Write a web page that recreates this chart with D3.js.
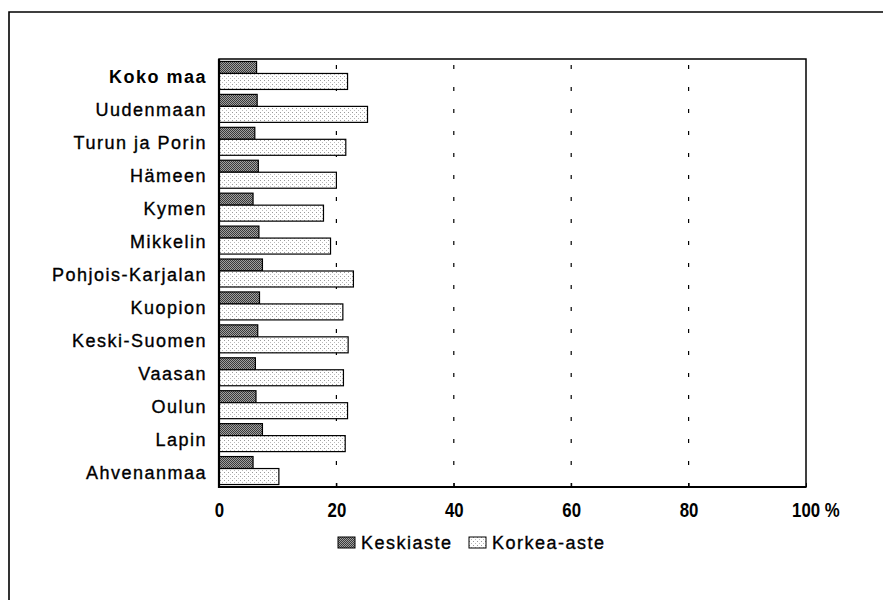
<!DOCTYPE html>
<html>
<head>
<meta charset="utf-8">
<script src="https://cdn.jsdelivr.net/npm/d3@7"></script>
<style>
  body { margin: 0; background: #fff; }
  svg { display: block; }
</style>
</head>
<body>
<script>
var regions = ['Koko maa', 'Uudenmaan', 'Turun ja Porin', 'Hämeen', 'Kymen', 'Mikkelin', 'Pohjois-Karjalan',
               'Kuopion', 'Keski-Suomen', 'Vaasan', 'Oulun', 'Lapin', 'Ahvenanmaa'];
var keskiaste = [6.4, 6.5, 6.1, 6.7, 5.8, 6.8, 7.4, 6.9, 6.6, 6.2, 6.3, 7.4, 5.8];
var korkeaAste = [21.9, 25.3, 21.6, 20.0, 17.8, 19.0, 22.9, 21.1, 22.0, 21.2, 21.9, 21.5, 10.2];
var seriesNames = ['Keskiaste', 'Korkea-aste'];
var tickValues = [0, 20, 40, 60, 80, 100];
var gridValues = [20, 40, 60, 80];

var width = 883, height = 600;
var plot = { left: 219, right: 806, top: 59, bottom: 487 };

var labelFont = '"Liberation Sans", Arial, sans-serif';

var svg = d3.select('body').append('svg').attr('width', width).attr('height', height);

// hatch-like fills for the scanned look
var defs = svg.append('defs');
var dark = defs.append('pattern').attr('id', 'darkFill')
    .attr('width', 2).attr('height', 2).attr('patternUnits', 'userSpaceOnUse');
dark.append('rect').attr('width', 2).attr('height', 2).attr('fill', '#a0a0a0');
dark.append('rect').attr('width', 1).attr('height', 1).attr('fill', '#3a3a3a');
dark.append('rect').attr('x', 1).attr('y', 1).attr('width', 1).attr('height', 1).attr('fill', '#3a3a3a');

var light = defs.append('pattern').attr('id', 'lightFill')
    .attr('width', 4).attr('height', 4).attr('patternUnits', 'userSpaceOnUse');
light.append('rect').attr('width', 4).attr('height', 4).attr('fill', '#fff');
light.append('rect').attr('x', 0).attr('y', 0).attr('width', 1).attr('height', 1).attr('fill', '#9a9a9a');
light.append('rect').attr('x', 2).attr('y', 2).attr('width', 1).attr('height', 1).attr('fill', '#bbb');

var fills = ['url(#darkFill)', 'url(#lightFill)'];

// outer frame (runs off the page right and bottom)
svg.append('path')
    .attr('d', 'M9,' + height + 'V12H' + width)
    .attr('fill', 'none').attr('stroke', '#000').attr('stroke-width', 1.6);

var x = d3.scaleLinear().domain([0, 100]).range([plot.left, plot.right]);
var y = d3.scaleBand().domain(regions).range([plot.top, plot.bottom])
    .paddingInner(0.15).paddingOuter(0.075);

// dashed grid
svg.append('g').selectAll('line').data(gridValues).join('line')
    .attr('x1', function(d) { return x(d); })
    .attr('x2', function(d) { return x(d); })
    .attr('y1', plot.top + 6).attr('y2', plot.bottom)
    .attr('stroke', '#000').attr('stroke-width', 1.2)
    .attr('stroke-dasharray', '4 18');

// bars: dark one on top, light one underneath
var darkH = y.bandwidth() * 12 / 28;
var lightH = y.bandwidth() - darkH;
var bars = svg.append('g');
bars.selectAll('rect.k').data(regions).join('rect')
    .attr('class', 'k')
    .attr('x', x(0))
    .attr('y', function(d) { return y(d); })
    .attr('width', function(d, i) { return x(keskiaste[i]) - x(0); })
    .attr('height', darkH)
    .attr('fill', fills[0]).attr('stroke', '#000').attr('stroke-width', 1.2);
bars.selectAll('rect.a').data(regions).join('rect')
    .attr('class', 'a')
    .attr('x', x(0))
    .attr('y', function(d) { return y(d) + darkH; })
    .attr('width', function(d, i) { return x(korkeaAste[i]) - x(0); })
    .attr('height', lightH)
    .attr('fill', fills[1]).attr('stroke', '#000').attr('stroke-width', 1.2);

// plot frame
svg.append('rect')
    .attr('x', plot.left).attr('y', plot.top)
    .attr('width', plot.right - plot.left).attr('height', plot.bottom - plot.top)
    .attr('fill', 'none').attr('stroke', '#000').attr('stroke-width', 1.5);
svg.append('line').attr('x1', plot.left).attr('x2', plot.left)
    .attr('y1', plot.top).attr('y2', plot.bottom + 1)
    .attr('stroke', '#000').attr('stroke-width', 2.2);
svg.append('line').attr('x1', plot.left).attr('x2', plot.right)
    .attr('y1', plot.bottom).attr('y2', plot.bottom)
    .attr('stroke', '#000').attr('stroke-width', 2.2);

// category labels
svg.append('g').selectAll('text').data(regions).join('text')
    .attr('x', plot.left - 12)
    .attr('y', function(d) { return y(d) + y.bandwidth() / 2 + 8; })
    .attr('text-anchor', 'end')
    .attr('font-family', labelFont)
    .attr('font-size', 18)
    .attr('letter-spacing', 1.5)
    .attr('font-weight', function(d, i) { return i === 0 ? 'bold' : 'normal'; })
    .attr('stroke', function(d, i) { return i === 0 ? 'none' : '#000'; })
    .attr('stroke-width', 0.35)
    .attr('fill', '#000')
    .text(function(d) { return d; });

// x axis, condensed bold numbers
var xAxis = d3.axisBottom(x)
    .tickValues(tickValues)
    .tickSizeInner(-4)
    .tickSizeOuter(0)
    .tickFormat(function(d) { return d === 100 ? '100 %' : d; });
var axisG = svg.append('g')
    .attr('transform', 'translate(0,' + plot.bottom + ')')
    .call(xAxis);
axisG.select('.domain').remove();
axisG.selectAll('.tick line').attr('stroke', '#000').attr('stroke-width', 1);
axisG.selectAll('.tick text')
    .attr('y', 30).attr('dy', 0)
    .attr('fill', '#000')
    .attr('font-family', labelFont)
    .attr('font-size', 21)
    .attr('font-weight', 'bold')
    .attr('transform', 'scale(0.8,1)')
    .filter(function(d) { return d === 100; })
    .attr('text-anchor', 'start')
    .attr('x', -18);

// legend
var legendX = [338, 469];
var legendY = 549;
var leg = svg.append('g').selectAll('g').data(seriesNames).join('g')
    .attr('transform', function(d, i) { return 'translate(' + legendX[i] + ',' + legendY + ')'; });
leg.append('rect')
    .attr('x', 0).attr('y', -12).attr('width', 17).attr('height', 11)
    .attr('fill', function(d, i) { return fills[i]; })
    .attr('stroke', '#000').attr('stroke-width', 1);
leg.append('text')
    .attr('x', 23).attr('y', 0)
    .attr('font-family', labelFont)
    .attr('font-size', 18)
    .attr('letter-spacing', 1.5)
    .attr('stroke', '#000').attr('stroke-width', 0.35)
    .attr('fill', '#000')
    .text(function(d) { return d; });
</script>
</body>
</html>
